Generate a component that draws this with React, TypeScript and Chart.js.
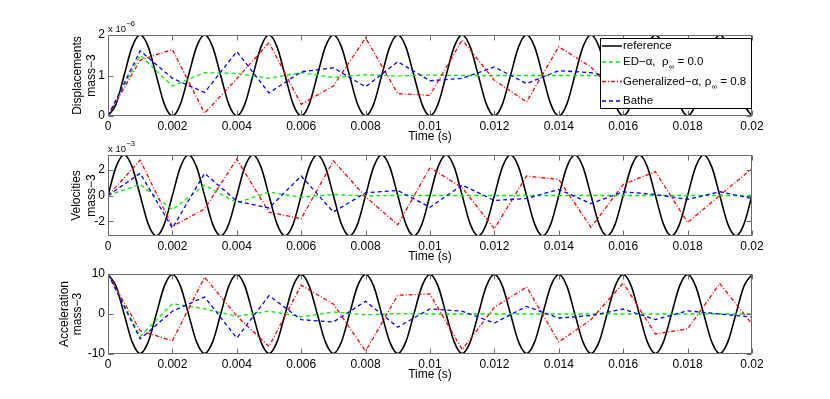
import React, { useEffect, useRef } from "react";
import { Chart, registerables } from "chart.js";
Chart.register(...registerables);

// ---------- data ----------
const REF_DT = 0.00025; // sampling step of the reference curve (s)
const NUM_DT = 0.001; // time step of the numerical schemes (s)

const xTickValues = [0, 0.002, 0.004, 0.006, 0.008, 0.01, 0.012, 0.014, 0.016, 0.018, 0.02];
const xTickLabels = ["0", "0.002", "0.004", "0.006", "0.008", "0.01", "0.012", "0.014", "0.016", "0.018", "0.02"];

const dispTicks = [0, 1, 2];
const dispTickLabels = ["0", "1", "2"];
const velTicks = [-2, 0, 2];
const velTickLabels = ["-2", "0", "2"];
const accTicks = [-10, 0, 10];
const accTickLabels = ["-10", "0", "10"];

// reference (exact) solution, displacement in 1e-6
const refDisplacement = [
  0, 0.293, 1, 1.707, 2, 1.707, 1, 0.293,
  0, 0.293, 1, 1.707, 2, 1.707, 1, 0.293,
  0, 0.293, 1, 1.707, 2, 1.707, 1, 0.293,
  0, 0.293, 1, 1.707, 2, 1.707, 1, 0.293,
  0, 0.293, 1, 1.707, 2, 1.707, 1, 0.293,
  0, 0.293, 1, 1.707, 2, 1.707, 1, 0.293,
  0, 0.293, 1, 1.707, 2, 1.707, 1, 0.293,
  0, 0.293, 1, 1.707, 2, 1.707, 1, 0.293,
  0, 0.293, 1, 1.707, 2, 1.707, 1, 0.293,
  0, 0.293, 1, 1.707, 2, 1.707, 1, 0.293,
  0,
];
// reference velocity in 1e-3
const refVelocity = [
  0, 2.221, 3.142, 2.221, 0, -2.221, -3.142, -2.221,
  0, 2.221, 3.142, 2.221, 0, -2.221, -3.142, -2.221,
  0, 2.221, 3.142, 2.221, 0, -2.221, -3.142, -2.221,
  0, 2.221, 3.142, 2.221, 0, -2.221, -3.142, -2.221,
  0, 2.221, 3.142, 2.221, 0, -2.221, -3.142, -2.221,
  0, 2.221, 3.142, 2.221, 0, -2.221, -3.142, -2.221,
  0, 2.221, 3.142, 2.221, 0, -2.221, -3.142, -2.221,
  0, 2.221, 3.142, 2.221, 0, -2.221, -3.142, -2.221,
  0, 2.221, 3.142, 2.221, 0, -2.221, -3.142, -2.221,
  0, 2.221, 3.142, 2.221, 0, -2.221, -3.142, -2.221,
  0,
];
// reference acceleration
const refAcceleration = [
  9.87, 6.979, 0, -6.979, -9.87, -6.979, 0, 6.979,
  9.87, 6.979, 0, -6.979, -9.87, -6.979, 0, 6.979,
  9.87, 6.979, 0, -6.979, -9.87, -6.979, 0, 6.979,
  9.87, 6.979, 0, -6.979, -9.87, -6.979, 0, 6.979,
  9.87, 6.979, 0, -6.979, -9.87, -6.979, 0, 6.979,
  9.87, 6.979, 0, -6.979, -9.87, -6.979, 0, 6.979,
  9.87, 6.979, 0, -6.979, -9.87, -6.979, 0, 6.979,
  9.87, 6.979, 0, -6.979, -9.87, -6.979, 0, 6.979,
  9.87, 6.979, 0, -6.979, -9.87, -6.979, 0, 6.979,
  9.87, 6.979, 0, -6.979, -9.87, -6.979, 0, 6.979,
  9.87,
];

// ED-alpha, rho_inf = 0.0
const edDisplacement = [0, 1.5, 0.74, 1.07, 1.05, 0.93, 1.07, 0.95, 1.02, 0.99, 1.01, 1.0, 1.0, 1.0, 1.0, 1.0, 1.0, 1.0, 1.0, 1.0, 1.02];
const edVelocity = [0, 0.86, -1.1, 0.81, -0.57, 0.26, -0.13, 0.08, -0.03, 0.01, 0, 0, 0, 0, 0, 0, 0, 0, 0, 0, 0];
const edAcceleration = [10, -5.6, 2.6, 1.3, -0.6, 0.7, -0.7, 0.5, -0.2, 0.1, 0, 0, 0, 0, 0, 0, 0, 0, 0, 0, 0];

// Generalized-alpha, rho_inf = 0.8
const genDisplacement = [0, 1.38, 1.64, 0.07, 0.92, 1.81, 0.29, 0.74, 1.93, 0.55, 0.51, 1.88, 0.88, 0.35, 1.71, 1.21, 0.35, 1.75, 0.6, 1.5, 1.24];
const genVelocity = [0, 2.74, -2.4, -1.04, 2.82, -1.3, -1.8, 2.69, -0.1, -2.27, 2.17, 0.6, -2.58, 1.51, 1.25, -2.48, 0.86, 1.85, -2.09, 0.0, 2.09];
const genAcceleration = [10, -4.2, -6.7, 9.2, -0.5, -8.1, 7.2, 2.5, -9.3, 4.7, 5.0, -8.9, 1.7, 6.75, -7.0, -1.4, 7.75, -5.0, -3.7, 7.6, -2.5];

// Bathe
const batheDisplacement = [0, 1.61, 0.93, 0.58, 1.59, 0.57, 1.09, 1.19, 0.72, 1.34, 0.87, 0.93, 1.21, 0.8, 1.12, 1.07, 0.9, 1.1, 0.95, 1.05, 1.04];
const batheVelocity = [0, 1.72, -2.53, 1.72, -0.44, -0.97, 1.51, -1.28, 0.21, 0.39, -0.91, 0.81, -0.39, -0.23, 0.47, -0.63, 0.29, 0.08, -0.31, 0.29, -0.23];
const batheAcceleration = [10, -6.2, 0.7, 4.25, -6.0, 4.6, -1.4, -2.0, 3.2, -3.3, 1.3, 0.7, -2.25, 1.9, -1.0, -0.4, 1.25, -1.4, 0.8, 0.0, -0.75];

const legendLabels = ["reference", "ED\u2212\u03b1,  \u03c1", "Generalized\u2212\u03b1, \u03c1", "Bathe"];
const legendTails = ["", " = 0.0", " = 0.8", ""];

// ---------- styles ----------
const FONT = "'Liberation Sans', Arial, Helvetica, sans-serif";
const C_REF = "#000000";
const C_ED = "#00ee00";
const C_GEN = "#ff0000";
const C_BATHE = "#0000ff";
const DASH = [4, 3];
const DASH_DOT = [4, 2, 1, 2];
const BOX = "#6a6a6a";

type Panel = {
  top: number;
  height: number;
  padTop: number;
  padBottom: number;
  yMin: number;
  yMax: number;
  yTicks: number[];
  yTickLabels: string[];
  ref: number[];
  ed: number[];
  gen: number[];
  bathe: number[];
  yTitle: string;
  yTitleX: [number, number];
  exponent?: string;
  legend?: boolean;
};

const panels: Panel[] = [
  {
    top: 0, height: 145, padTop: 35, padBottom: 9,
    yMin: 0, yMax: 2, yTicks: dispTicks, yTickLabels: dispTickLabels,
    ref: refDisplacement, ed: edDisplacement, gen: genDisplacement, bathe: batheDisplacement,
    yTitle: "Displacements", yTitleX: [78, 92], exponent: "\u22126", legend: true,
  },
  {
    top: 128, height: 135, padTop: 27, padBottom: 7,
    yMin: -3.1416, yMax: 3.1416, yTicks: velTicks, yTickLabels: velTickLabels,
    ref: refVelocity, ed: edVelocity, gen: genVelocity, bathe: batheVelocity,
    yTitle: "Velocities", yTitleX: [77, 92], exponent: "\u22123",
  },
  {
    top: 250, height: 149, padTop: 24, padBottom: 25,
    yMin: -10, yMax: 10, yTicks: accTicks, yTickLabels: accTickLabels,
    ref: refAcceleration, ed: edAcceleration, gen: genAcceleration, bathe: batheAcceleration,
    yTitle: "Acceleration", yTitleX: [65, 78],
  },
];

function toPoints(values: number[], dt: number) {
  return values.map((y, i) => ({ x: +(i * dt).toFixed(6), y }));
}

function drawLegend(ctx: CanvasRenderingContext2D, canvasTop: number) {
  const x0 = 600, y0 = 38 - canvasTop, w = 151, h = 70;
  ctx.save();
  ctx.fillStyle = "#fff";
  ctx.fillRect(x0, y0, w, h);
  ctx.strokeStyle = "#000";
  ctx.lineWidth = 1;
  ctx.setLineDash([]);
  ctx.strokeRect(x0 + 0.5, y0 + 0.5, w, h);
  const rows = [46, 62, 81.5, 101];
  const colors = [C_REF, C_ED, C_GEN, C_BATHE];
  const dashes = [[], DASH, DASH_DOT, DASH];
  const widths = [1.5, 1.3, 1.3, 1.3];
  rows.forEach((ry, i) => {
    const y = ry - canvasTop;
    ctx.beginPath();
    ctx.strokeStyle = colors[i];
    ctx.lineWidth = widths[i];
    ctx.setLineDash(dashes[i]);
    ctx.moveTo(602, y);
    ctx.lineTo(622, y);
    ctx.stroke();
    ctx.setLineDash([]);
    ctx.fillStyle = "#000";
    ctx.textBaseline = "middle";
    ctx.textAlign = "left";
    ctx.font = `11.5px ${FONT}`;
    let x = 623;
    ctx.fillText(legendLabels[i], x, y);
    x += ctx.measureText(legendLabels[i]).width;
    if (legendTails[i]) {
      ctx.font = `7.5px ${FONT}`;
      ctx.fillText("\u221e", x + 0.5, y + 5);
      x += ctx.measureText("\u221e").width + 0.5;
      ctx.font = `11.5px ${FONT}`;
      ctx.fillText(legendTails[i], x, y);
    }
  });
  ctx.restore();
}

function PanelChart({ p }: { p: Panel }) {
  const ref = useRef<HTMLCanvasElement | null>(null);
  useEffect(() => {
    const canvas = ref.current;
    if (!canvas) return;

    const framePlugin = {
      id: "frame" + p.top,
      afterDatasetsDraw(chart: any) {
        const ctx: CanvasRenderingContext2D = chart.ctx;
        const { left, right, top, bottom } = chart.chartArea;
        const xs = chart.scales.x;
        const ys = chart.scales.y;
        ctx.save();
        ctx.strokeStyle = BOX;
        ctx.lineWidth = 1;
        ctx.setLineDash([]);
        const L = Math.round(left) + 0.5, R = Math.round(right) - 0.5;
        const T = Math.round(top) + 0.5, B = Math.round(bottom) - 0.5;
        ctx.strokeRect(L, T, R - L, B - T);
        ctx.beginPath();
        xTickValues.forEach((v) => {
          const px = Math.round(xs.getPixelForValue(v)) + 0.5;
          ctx.moveTo(px, B);
          ctx.lineTo(px, B - 5);
          ctx.moveTo(px, T);
          ctx.lineTo(px, T + 5);
        });
        p.yTicks.forEach((v) => {
          const py = Math.round(ys.getPixelForValue(v)) + 0.5;
          ctx.moveTo(L, py);
          ctx.lineTo(L + 5, py);
          ctx.moveTo(R, py);
          ctx.lineTo(R - 5, py);
        });
        ctx.stroke();
        ctx.restore();
        if (p.legend) drawLegend(ctx, p.top);
      },
      afterDraw(chart: any) {
        const ctx: CanvasRenderingContext2D = chart.ctx;
        const { left, right, top, bottom } = chart.chartArea;
        ctx.save();
        ctx.fillStyle = "#000";
        ctx.font = `12px ${FONT}`;
        ctx.textAlign = "center";
        ctx.textBaseline = "middle";
        ctx.fillText("Time (s)", (left + right) / 2, bottom + 20.5);
        const cy = (top + bottom) / 2;
        [p.yTitle, "mass\u22123"].forEach((t, i) => {
          ctx.save();
          ctx.translate(p.yTitleX[i], cy);
          ctx.rotate(-Math.PI / 2);
          ctx.fillText(t, 0, 0);
          ctx.restore();
        });
        if (p.exponent) {
          ctx.textAlign = "left";
          ctx.textBaseline = "alphabetic";
          ctx.font = `9.5px ${FONT}`;
          ctx.fillText("x 10", left, top - 3.5);
          const w = ctx.measureText("x 10").width;
          ctx.font = `7.5px ${FONT}`;
          ctx.fillText(p.exponent, left + w + 0.5, top - 9.5);
        }
        ctx.restore();
      },
    };

    const lineBase = { pointRadius: 0, pointHoverRadius: 0, fill: false };
    const chart = new Chart(canvas, {
      type: "line",
      data: {
        datasets: [
          { ...lineBase, label: "Bathe", data: toPoints(p.bathe, NUM_DT), borderColor: C_BATHE, borderWidth: 1.3, borderDash: DASH, tension: 0 },
          { ...lineBase, label: "Generalized", data: toPoints(p.gen, NUM_DT), borderColor: C_GEN, borderWidth: 1.3, borderDash: DASH_DOT, tension: 0 },
          { ...lineBase, label: "ED", data: toPoints(p.ed, NUM_DT), borderColor: C_ED, borderWidth: 1.3, borderDash: DASH, tension: 0 },
          { ...lineBase, label: "reference", data: toPoints(p.ref, REF_DT), borderColor: C_REF, borderWidth: 1.6, cubicInterpolationMode: "monotone" },
        ],
      } as any,
      options: {
        responsive: false,
        animation: false,
        events: [],
        layout: { padding: { left: 78, right: 78, top: p.padTop, bottom: p.padBottom } },
        plugins: { legend: { display: false }, tooltip: { enabled: false }, title: { display: false } },
        scales: {
          x: {
            type: "linear",
            min: 0,
            max: 0.02,
            grid: { display: false, drawTicks: false },
            border: { display: false },
            afterBuildTicks: (s: any) => {
              s.ticks = xTickValues.map((v) => ({ value: v }));
            },
            afterFit: (s: any) => {
              s.height = 20;
            },
            ticks: {
              autoSkip: false,
              maxRotation: 0,
              padding: 3,
              color: "#000",
              font: { family: FONT, size: 12 },
              callback: (_v: any, i: number) => xTickLabels[i],
            },
          },
          y: {
            type: "linear",
            min: p.yMin,
            max: p.yMax,
            grid: { display: false, drawTicks: false },
            border: { display: false },
            afterBuildTicks: (s: any) => {
              s.ticks = p.yTicks.map((v) => ({ value: v }));
            },
            afterFit: (s: any) => {
              s.width = 30;
            },
            ticks: {
              autoSkip: false,
              padding: 3,
              color: "#000",
              font: { family: FONT, size: 12 },
              callback: (_v: any, i: number) => p.yTickLabels[i],
            },
          },
        },
      } as any,
      plugins: [framePlugin],
    });
    return () => chart.destroy();
  }, [p]);
  return (
    <canvas
      ref={ref}
      width={830}
      height={p.height}
      style={{ position: "absolute", left: 0, top: p.top, width: 830, height: p.height }}
    />
  );
}

export default function App() {
  return (
    <div style={{ position: "absolute", left: 0, top: 0, width: 830, height: 399, background: "#fff", overflow: "hidden" }}>
      {panels.map((p) => (
        <PanelChart key={p.top} p={p} />
      ))}
    </div>
  );
}
